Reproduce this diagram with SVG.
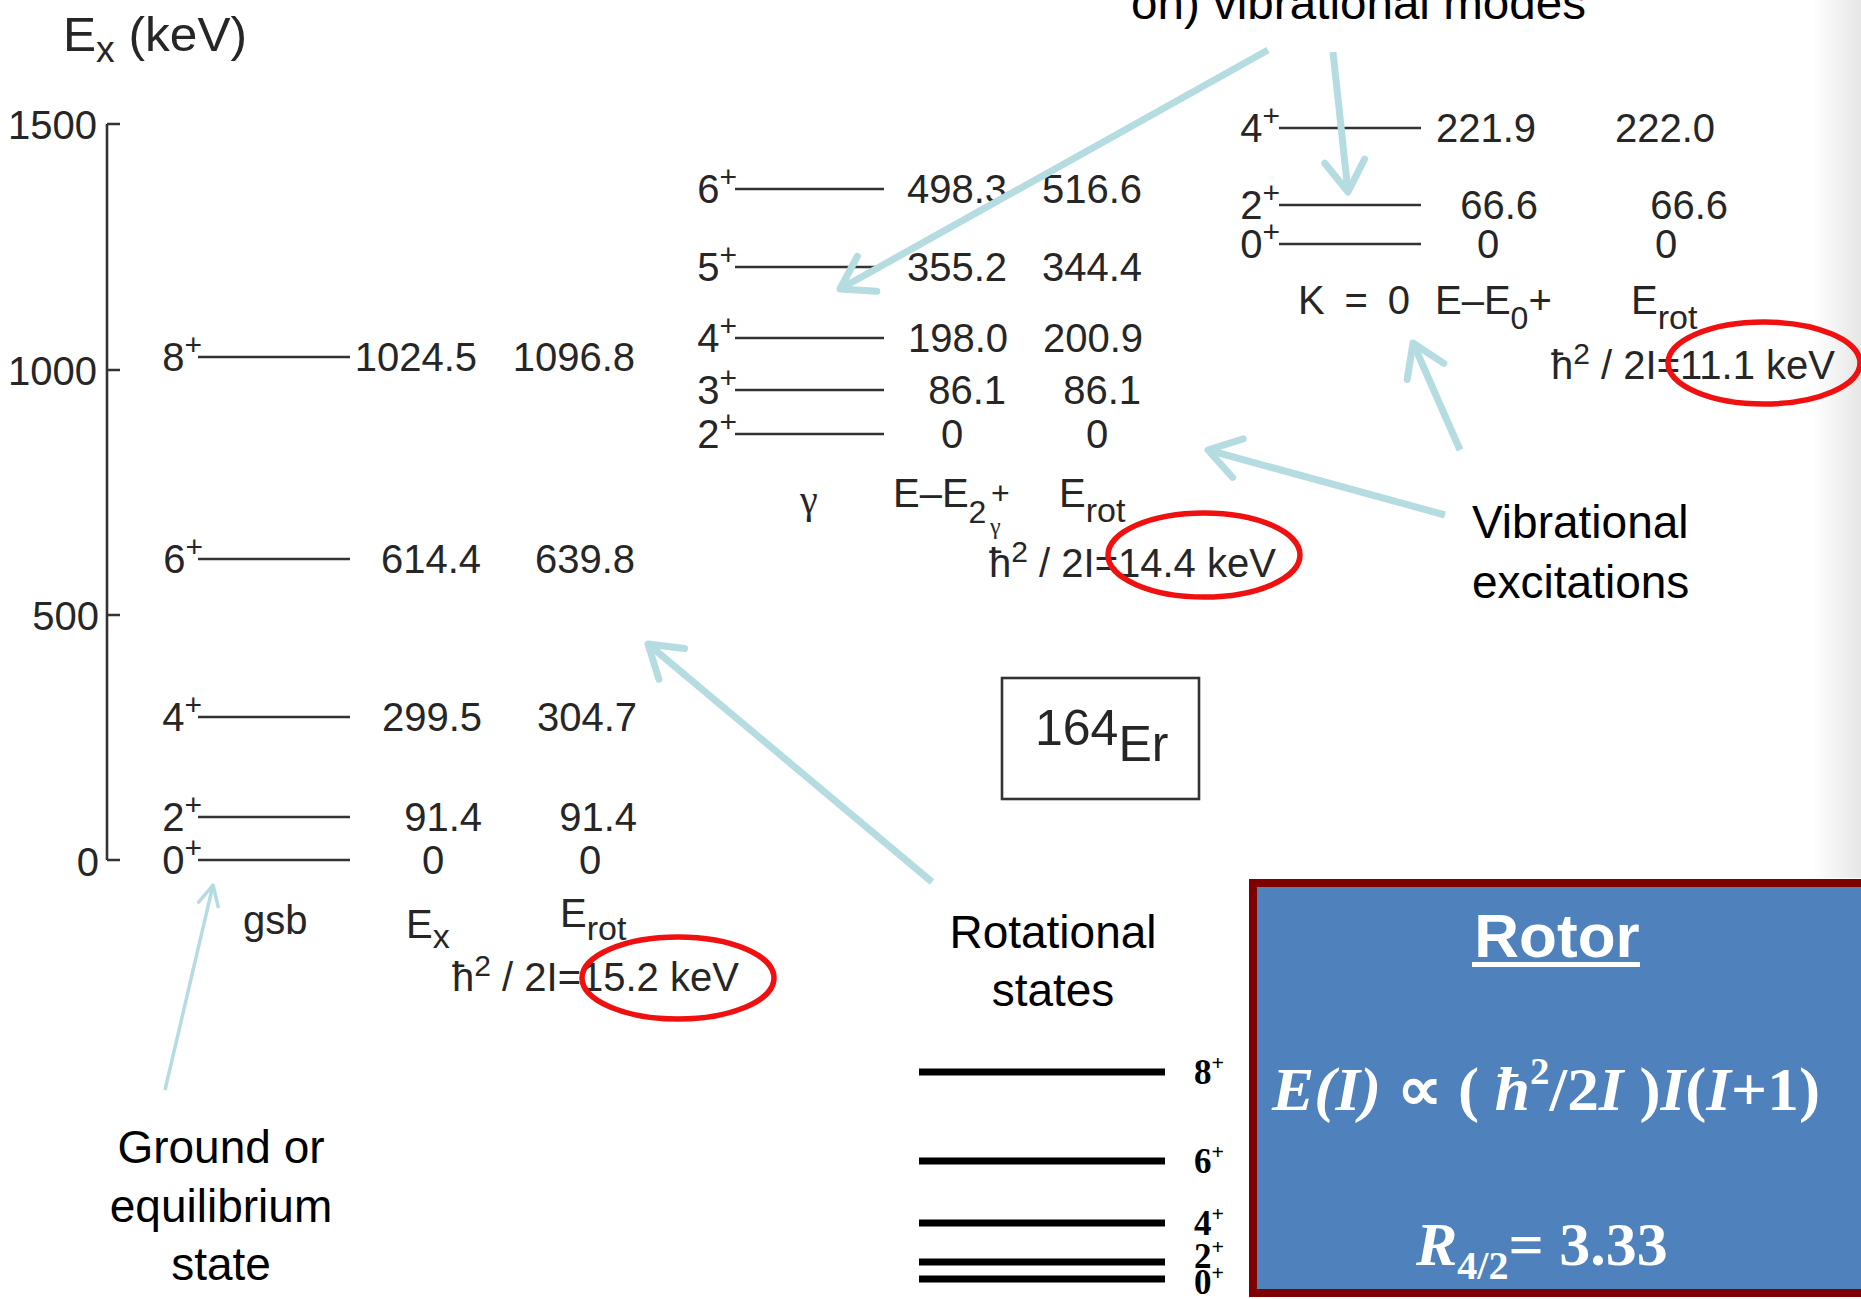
<svg xmlns="http://www.w3.org/2000/svg" width="1861" height="1299" viewBox="0 0 1861 1299">
  <defs>
    <style>
      .t{font-family:"Liberation Sans",Arial,sans-serif;fill:#262626;font-size:40px}
      .e{text-anchor:end}
      .m{text-anchor:middle}
      .lv{stroke:#333;stroke-width:2.6}
      .ann{font-family:"Liberation Sans",Arial,sans-serif;font-size:46px;fill:#000}
      .ptr{stroke:#b5dce0;stroke-width:7;fill:none}
      .ptr-thin{stroke:#b5dce0;stroke-width:3.5;fill:none}
      .ring{fill:none;stroke:#f01010;stroke-width:5.5}
      .rl{stroke:#000;stroke-width:7}
      .rj{font-family:"Liberation Serif","Times New Roman",serif;font-weight:bold;font-size:35px;fill:#000}
      .rotor{font-family:"Liberation Serif","Times New Roman",serif;font-weight:bold;fill:#fff}
    </style>
    <marker id="head" markerUnits="userSpaceOnUse" viewBox="-40 -30 50 60" refX="0" refY="0" markerWidth="50" markerHeight="60" orient="auto" overflow="visible">
      <path d="M-31,-20 L0,0 L-31,20" fill="none" stroke="#b5dce0" stroke-width="7" stroke-linecap="round" stroke-linejoin="round"/>
    </marker>
    <marker id="head-thin" markerUnits="userSpaceOnUse" viewBox="-30 -20 40 40" refX="0" refY="0" markerWidth="40" markerHeight="40" orient="auto" overflow="visible">
      <path d="M-20,-10 L0,0 L-20,10" fill="none" stroke="#b5dce0" stroke-width="3.5" stroke-linecap="round" stroke-linejoin="round"/>
    </marker>
    <linearGradient id="edge" x1="0" y1="0" x2="1" y2="0">
      <stop offset="0" stop-color="#ffffff"/>
      <stop offset="1" stop-color="#e6e6e6"/>
    </linearGradient>
  </defs>

  <rect width="1861" height="1299" fill="#fff"/>
  <!-- paper edge shading on the right -->
  <rect x="1812" y="0" width="49" height="878" fill="url(#edge)"/>

  <!-- energy axis -->
  <g id="axis">
    <text class="t" x="63" y="51" style="font-size:48px" textLength="184" lengthAdjust="spacingAndGlyphs">E<tspan font-size="36" dy="11">x</tspan><tspan dy="-11"> (keV)</tspan></text>
    <path d="M107,124 V860 M107,124 H120 M107,370 H120 M107,615 H120 M107,860 H120" stroke="#333" stroke-width="2.6" fill="none"/>
    <text class="t e" x="97" y="139">1500</text>
    <text class="t e" x="97" y="385">1000</text>
    <text class="t e" x="99" y="630">500</text>
    <text class="t e" x="99" y="876">0</text>
  </g>

  <!-- ground-state band -->
  <g id="band-gsb">
    <path class="lv" d="M198,357 H350 M198,559 H350 M198,717 H350 M198,817 H350 M198,860 H350"/>
    <text class="t e" x="202" y="371">8<tspan font-size="30" dy="-16">+</tspan></text>
    <text class="t e" x="203" y="573">6<tspan font-size="30" dy="-16">+</tspan></text>
    <text class="t e" x="202" y="731">4<tspan font-size="30" dy="-16">+</tspan></text>
    <text class="t e" x="202" y="831">2<tspan font-size="30" dy="-16">+</tspan></text>
    <text class="t e" x="202" y="874">0<tspan font-size="30" dy="-16">+</tspan></text>
    <text class="t e" x="477" y="371">1024.5</text>
    <text class="t e" x="481" y="573">614.4</text>
    <text class="t e" x="482" y="731">299.5</text>
    <text class="t e" x="482" y="831">91.4</text>
    <text class="t m" x="433" y="874">0</text>
    <text class="t e" x="635" y="371">1096.8</text>
    <text class="t e" x="635" y="573">639.8</text>
    <text class="t e" x="637" y="731">304.7</text>
    <text class="t e" x="637" y="831">91.4</text>
    <text class="t m" x="590" y="874">0</text>
    <text class="t" x="243" y="934">gsb</text>
    <text class="t" x="406" y="938">E<tspan font-size="34" dy="10">x</tspan></text>
    <text class="t" x="560" y="927">E<tspan font-size="34" dy="13">rot</tspan></text>
    <text class="t" x="452" y="991">ħ<tspan font-size="30" dy="-15">2</tspan><tspan dy="15"> / 2I=15.2 keV</tspan></text>
  </g>

  <!-- gamma band -->
  <g id="band-gamma">
    <path class="lv" d="M735,189 H884 M735,267 H884 M735,338 H884 M735,390 H884 M735,434 H884"/>
    <text class="t e" x="737" y="203">6<tspan font-size="30" dy="-16">+</tspan></text>
    <text class="t e" x="737" y="281">5<tspan font-size="30" dy="-16">+</tspan></text>
    <text class="t e" x="737" y="352">4<tspan font-size="30" dy="-16">+</tspan></text>
    <text class="t e" x="737" y="404">3<tspan font-size="30" dy="-16">+</tspan></text>
    <text class="t e" x="737" y="448">2<tspan font-size="30" dy="-16">+</tspan></text>
    <text class="t e" x="1007" y="203">498.3</text>
    <text class="t e" x="1007" y="281">355.2</text>
    <text class="t e" x="1008" y="352">198.0</text>
    <text class="t e" x="1006" y="404">86.1</text>
    <text class="t m" x="952" y="448">0</text>
    <text class="t e" x="1142" y="203">516.6</text>
    <text class="t e" x="1142" y="281">344.4</text>
    <text class="t e" x="1143" y="352">200.9</text>
    <text class="t e" x="1141" y="404">86.1</text>
    <text class="t m" x="1097" y="448">0</text>
    <text class="t" x="800" y="513" style="font-family:'Liberation Serif',serif">γ</text>
    <text class="t" x="893" y="507">E–E<tspan font-size="32" dy="16">2</tspan></text>
    <text class="t" x="991" y="504" style="font-size:32px">+</text>
    <text class="t" x="990" y="534" style="font-size:24px;font-family:'Liberation Serif',serif">γ</text>
    <text class="t" x="1059" y="507">E<tspan font-size="34" dy="15">rot</tspan></text>
    <text class="t" x="989" y="577">ħ<tspan font-size="30" dy="-15">2</tspan><tspan dy="15"> / 2I=14.4 keV</tspan></text>
  </g>

  <!-- K = 0 band -->
  <g id="band-k0">
    <path class="lv" d="M1279,128 H1421 M1279,205 H1421 M1279,244 H1421"/>
    <text class="t e" x="1280" y="142">4<tspan font-size="30" dy="-16">+</tspan></text>
    <text class="t e" x="1280" y="219">2<tspan font-size="30" dy="-16">+</tspan></text>
    <text class="t e" x="1280" y="258">0<tspan font-size="30" dy="-16">+</tspan></text>
    <text class="t e" x="1536" y="142">221.9</text>
    <text class="t e" x="1538" y="219">66.6</text>
    <text class="t m" x="1488" y="258">0</text>
    <text class="t e" x="1715" y="142">222.0</text>
    <text class="t e" x="1728" y="219">66.6</text>
    <text class="t m" x="1666" y="258">0</text>
    <text class="t" x="1298" y="314" textLength="112" lengthAdjust="spacing">K = 0</text>
    <text class="t" x="1435" y="314">E–E<tspan font-size="32" dy="15">0</tspan><tspan dy="-15">+</tspan></text>
    <text class="t" x="1631" y="314">E<tspan font-size="34" dy="15">rot</tspan></text>
    <text class="t" x="1551" y="379">ħ<tspan font-size="30" dy="-15">2</tspan><tspan dy="15"> / 2I=11.1 keV</tspan></text>
  </g>

  <!-- nucleus label -->
  <g id="nucleus-label">
    <rect x="1002" y="678" width="197" height="121" fill="none" stroke="#333" stroke-width="2.6"/>
    <text class="t" x="1035" y="745" style="font-size:50px">164<tspan dy="16">Er</tspan></text>
  </g>

  <!-- highlighted inertia parameters -->
  <g id="rings">
    <ellipse class="ring" cx="678" cy="978" rx="96" ry="41"/>
    <ellipse class="ring" cx="1204" cy="555" rx="96" ry="42"/>
    <ellipse class="ring" cx="1764" cy="363" rx="96" ry="41"/>
  </g>

  <!-- rotational level scheme -->
  <g id="rotational-scheme">
    <path class="rl" d="M919,1072 H1165 M919,1161 H1165 M919,1223 H1165 M919,1262 H1165 M919,1279 H1165"/>
    <text class="rj" x="1194" y="1084">8<tspan font-size="22" dy="-14">+</tspan></text>
    <text class="rj" x="1194" y="1173">6<tspan font-size="22" dy="-14">+</tspan></text>
    <text class="rj" x="1194" y="1235">4<tspan font-size="22" dy="-14">+</tspan></text>
    <text class="rj" x="1194" y="1268">2<tspan font-size="22" dy="-14">+</tspan></text>
    <text class="rj" x="1194" y="1294">0<tspan font-size="22" dy="-14">+</tspan></text>
  </g>

  <!-- rotor summary box -->
  <g id="rotor-box">
    <rect x="1253" y="883" width="640" height="410" fill="#4f81bd" stroke="#7f0000" stroke-width="8"/>
    <text x="1557" y="957" text-anchor="middle" font-family="Liberation Sans, Arial, sans-serif" font-weight="bold" font-size="62" fill="#fff">Rotor</text>
    <rect x="1472" y="962" width="168" height="5" fill="#fff"/>
    <text class="rotor" x="1272" y="1110" font-size="62" textLength="548" lengthAdjust="spacingAndGlyphs"><tspan font-style="italic">E(I)</tspan> ∝ ( <tspan font-style="italic">ħ</tspan><tspan font-size="38" dy="-26">2</tspan><tspan dy="26">/2</tspan><tspan font-style="italic">I</tspan> )<tspan font-style="italic">I</tspan>(<tspan font-style="italic">I</tspan>+1)</text>
    <text class="rotor" x="1416" y="1265" font-size="62"><tspan font-style="italic">R</tspan><tspan font-size="40" dy="14">4/2</tspan><tspan dy="-14">= 3.33</tspan></text>
  </g>

  <!-- annotations -->
  <g id="note-vibrational-modes">
    <text class="ann" x="1131" y="19" textLength="455" lengthAdjust="spacingAndGlyphs">on) vibrational modes</text>
  </g>
  <g id="note-vibrational-excitations">
    <text class="ann" x="1472" y="538">Vibrational</text>
    <text class="ann" x="1472" y="598">excitations</text>
  </g>
  <g id="note-rotational-states">
    <text class="ann m" x="1053" y="948">Rotational</text>
    <text class="ann m" x="1053" y="1006">states</text>
  </g>
  <g id="note-ground-state">
    <text class="ann m" x="221" y="1163">Ground or</text>
    <text class="ann m" x="221" y="1222">equilibrium</text>
    <text class="ann m" x="221" y="1280">state</text>
  </g>

  <!-- pointer arrows -->
  <g id="connectors">
    <line class="ptr" x1="1268" y1="50" x2="840" y2="289" marker-end="url(#head)"/>
    <line class="ptr" x1="1333" y1="52" x2="1348" y2="192" marker-end="url(#head)"/>
    <line class="ptr" x1="1445" y1="515" x2="1208" y2="450" marker-end="url(#head)"/>
    <line class="ptr" x1="1460" y1="450" x2="1413" y2="343" marker-end="url(#head)"/>
    <line class="ptr" x1="932" y1="882" x2="648" y2="644" marker-end="url(#head)"/>
    <line class="ptr-thin" x1="165" y1="1090" x2="213" y2="885" marker-end="url(#head-thin)"/>
  </g>
</svg>
